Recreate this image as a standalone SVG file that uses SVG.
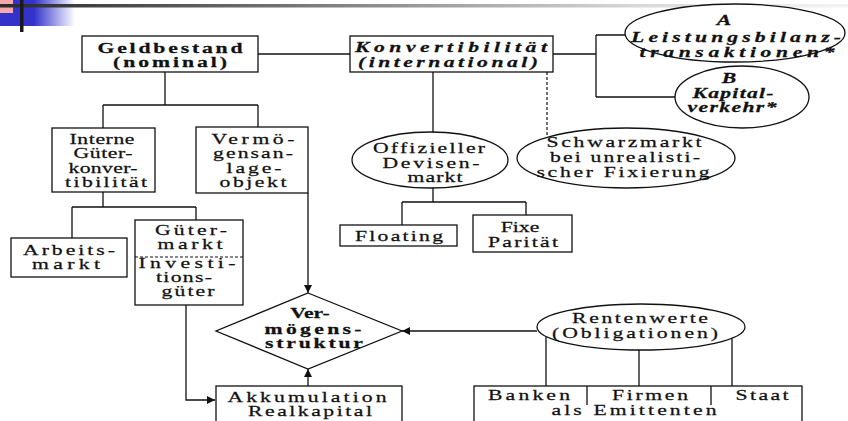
<svg xmlns="http://www.w3.org/2000/svg" width="848" height="421" viewBox="0 0 848 421">
<style>
.box{fill:#fff;stroke:#111;stroke-width:1.3}
.ln{fill:none;stroke:#111;stroke-width:1.3}
.dash{fill:none;stroke:#111;stroke-width:1.2;stroke-dasharray:3,2}
.t{font-family:"Liberation Serif","Times New Roman",serif;font-size:15.5px;text-anchor:middle;fill:#111;stroke:#111;stroke-width:0.25}
.b{font-weight:bold}
.i{font-style:italic}
</style>
<defs>
<linearGradient id="bar" x1="0" x2="1" y1="0" y2="0">
<stop offset="0" stop-color="#2a2a2a"/>
<stop offset="0.35" stop-color="#777"/>
<stop offset="0.75" stop-color="#d8d8d8"/>
<stop offset="1" stop-color="#f4f4f4"/>
</linearGradient>
<linearGradient id="blue" x1="0" x2="1" y1="0" y2="0">
<stop offset="0" stop-color="#3333cc"/>
<stop offset="0.45" stop-color="#3333cc"/>
<stop offset="1" stop-color="#3333cc" stop-opacity="0"/>
</linearGradient>
<marker id="ah" viewBox="0 0 10 10" refX="10" refY="5" markerWidth="10" markerHeight="8" markerUnits="userSpaceOnUse" orient="auto">
<path d="M0,0 L10,5 L0,10 z" fill="#111"/>
</marker>
</defs>
<rect width="848" height="421" fill="#fff"/>
<g id="decoration">
<rect x="0" y="0" width="75" height="26" fill="url(#blue)"/>
<rect x="0" y="0" width="13" height="13" fill="#f7a8a8"/>
<rect x="0" y="4" width="848" height="3.5" fill="url(#bar)"/>
<rect x="20" y="0" width="3.5" height="32" fill="#1a1a1a"/>
</g>
<g id="connectors">
<path class="ln" d="M258,54 H350"/>
<path class="ln" d="M553,54 H596 M596,35 V97 M596,35 H625 M596,97 H675"/>
<path class="ln" d="M433,72 V132"/>
<path class="dash" d="M547,72 V137"/>
<path class="ln" d="M433,188 V202 M402,202 H526 M402,202 V225 M526,202 V215"/>
<path class="ln" d="M165,72 V105 M103,105 H258 M103,105 V128 M258,105 V127"/>
<path class="ln" d="M103,192 V207 M72,207 H196 M72,207 V238 M196,207 V220"/>
<path class="ln" d="M308,193 V293" marker-end="url(#ah)"/>
<path class="ln" d="M186,305 V400 H215" marker-end="url(#ah)"/>
<path class="ln" d="M308,386 V369" marker-end="url(#ah)"/>
<path class="ln" d="M537,331 H402" marker-end="url(#ah)"/>
<path class="ln" d="M546,337 V386 M639,350 V386 M732,338 V386"/>
</g>
<g id="geldbestand">
<rect class="box" x="82" y="36" width="176" height="36"/>
<text class="t b" transform="matrix(1.4 0 0 1 170 53)" textLength="103.6" lengthAdjust="spacing">Geldbestand</text>
<text class="t b" transform="matrix(1.4 0 0 1 170 67)" textLength="81.4" lengthAdjust="spacing">(nominal)</text>
</g>
<g id="konvertibilitaet">
<rect class="box" x="350" y="36" width="203" height="36"/>
<text class="t b i" transform="matrix(1.4 0 0 1 451 52)" textLength="137.1" lengthAdjust="spacing">Konvertibilität</text>
<text class="t b i" transform="matrix(1.4 0 0 1 448 67)" textLength="128.6" lengthAdjust="spacing">(international)</text>
</g>
<g id="leistungsbilanz">
<ellipse class="box" cx="735" cy="33" rx="110" ry="29"/>
<text class="t b i" transform="matrix(1.4 0 0 1 724 25)">A</text>
<text class="t b i" transform="matrix(1.4 0 0 1 736 42)" textLength="150" lengthAdjust="spacing">Leistungsbilanz-</text>
<text class="t b i" transform="matrix(1.4 0 0 1 737 57)" textLength="139.3" lengthAdjust="spacing">transaktionen*</text>
</g>
<g id="kapitalverkehr">
<ellipse class="box" cx="742" cy="97" rx="67" ry="31"/>
<text class="t b i" transform="matrix(1.4 0 0 1 729 83)">B</text>
<text class="t b i" transform="matrix(1.4 0 0 1 733 98)" textLength="57.9" lengthAdjust="spacing">Kapital-</text>
<text class="t b i" transform="matrix(1.4 0 0 1 732 112)" textLength="63.6" lengthAdjust="spacing">verkehr*</text>
</g>
<g id="interne">
<rect class="box" x="52" y="128" width="103" height="64"/>
<text class="t" transform="matrix(1.4 0 0 1 102 144)" textLength="46.4" lengthAdjust="spacing">Interne</text>
<text class="t" transform="matrix(1.4 0 0 1 103 158)" textLength="42.1" lengthAdjust="spacing">Güter-</text>
<text class="t" transform="matrix(1.4 0 0 1 103 173)" textLength="49.3" lengthAdjust="spacing">konver-</text>
<text class="t" transform="matrix(1.4 0 0 1 106 187)" textLength="58.6" lengthAdjust="spacing">tibilität</text>
</g>
<g id="vermoegensanlage">
<rect class="box" x="196" y="127" width="112" height="66"/>
<text class="t" transform="matrix(1.4 0 0 1 253 144)" textLength="59.3" lengthAdjust="spacing">Vermö-</text>
<text class="t" transform="matrix(1.4 0 0 1 253 158)" textLength="57.1" lengthAdjust="spacing">gensan-</text>
<text class="t" transform="matrix(1.4 0 0 1 254 173)" textLength="39.3" lengthAdjust="spacing">lage-</text>
<text class="t" transform="matrix(1.4 0 0 1 253 187)" textLength="47.9" lengthAdjust="spacing">objekt</text>
</g>
<g id="arbeitsmarkt">
<rect class="box" x="11" y="238" width="116" height="39"/>
<text class="t" transform="matrix(1.4 0 0 1 69 255)" textLength="65.7" lengthAdjust="spacing">Arbeits-</text>
<text class="t" transform="matrix(1.4 0 0 1 66 269)" textLength="48.6" lengthAdjust="spacing">markt</text>
</g>
<g id="guetermarkt">
<rect class="box" x="135" y="220" width="108" height="85"/>
<path class="dash" d="M135,257 H243"/>
<text class="t" transform="matrix(1.4 0 0 1 191 235)" textLength="51.4" lengthAdjust="spacing">Güter-</text>
<text class="t" transform="matrix(1.4 0 0 1 190 249)" textLength="46.4" lengthAdjust="spacing">markt</text>
<text class="t" transform="matrix(1.4 0 0 1 187 268)" textLength="69.3" lengthAdjust="spacing">Investi-</text>
<text class="t" transform="matrix(1.4 0 0 1 184 282)" textLength="40" lengthAdjust="spacing">tions-</text>
<text class="t" transform="matrix(1.4 0 0 1 188 296)" textLength="37.9" lengthAdjust="spacing">güter</text>
</g>
<g id="devisenmarkt">
<ellipse class="box" cx="430" cy="160" rx="78" ry="28"/>
<text class="t" transform="matrix(1.4 0 0 1 429 153)" textLength="80" lengthAdjust="spacing">Offizieller</text>
<text class="t" transform="matrix(1.4 0 0 1 431 168)" textLength="69.3" lengthAdjust="spacing">Devisen-</text>
<text class="t" transform="matrix(1.4 0 0 1 435 182)" textLength="39.3" lengthAdjust="spacing">markt</text>
</g>
<g id="schwarzmarkt">
<ellipse class="box" cx="626" cy="158" rx="109" ry="30"/>
<text class="t" transform="matrix(1.4 0 0 1 624 147)" textLength="110.7" lengthAdjust="spacing">Schwarzmarkt</text>
<text class="t" transform="matrix(1.4 0 0 1 625 162)" textLength="107.1" lengthAdjust="spacing">bei unrealisti-</text>
<text class="t" transform="matrix(1.4 0 0 1 623 177)" textLength="123.6" lengthAdjust="spacing">scher Fixierung</text>
</g>
<g id="floating">
<rect class="box" x="340" y="225" width="117" height="21"/>
<text class="t" transform="matrix(1.4 0 0 1 399 241)" textLength="62.9" lengthAdjust="spacing">Floating</text>
</g>
<g id="fixe">
<rect class="box" x="473" y="215" width="99" height="37"/>
<text class="t" transform="matrix(1.4 0 0 1 520 232)">Fixe</text>
<text class="t" transform="matrix(1.4 0 0 1 523 247)" textLength="50" lengthAdjust="spacing">Parität</text>
</g>
<g id="vermoegensstruktur">
<polygon class="box" points="308,293 402,331 308,369 216,331"/>
<text class="t b" transform="matrix(1.4 0 0 1 310 318)">Ver-</text>
<text class="t b" transform="matrix(1.4 0 0 1 313 334)" textLength="69.3" lengthAdjust="spacing">mögens-</text>
<text class="t b" transform="matrix(1.4 0 0 1 314 348)" textLength="70" lengthAdjust="spacing">struktur</text>
</g>
<g id="akkumulation">
<rect class="box" x="216" y="386" width="186" height="40"/>
<text class="t" transform="matrix(1.4 0 0 1 307 402)" textLength="113.6" lengthAdjust="spacing">Akkumulation</text>
<text class="t" transform="matrix(1.4 0 0 1 310 416)" textLength="88.6" lengthAdjust="spacing">Realkapital</text>
</g>
<g id="rentenwerte">
<ellipse class="box" cx="641" cy="327" rx="104" ry="23"/>
<text class="t" transform="matrix(1.4 0 0 1 640 323)" textLength="97.1" lengthAdjust="spacing">Rentenwerte</text>
<text class="t" transform="matrix(1.4 0 0 1 635 338)" textLength="118.6" lengthAdjust="spacing">(Obligationen)</text>
</g>
<g id="emittenten">
<rect class="box" x="474" y="386" width="328" height="40"/>
<path class="ln" d="M587,386 V405 M711,386 V405"/>
<text class="t" transform="matrix(1.4 0 0 1 529 400)" textLength="58.6" lengthAdjust="spacing">Banken</text>
<text class="t" transform="matrix(1.4 0 0 1 650 400)" textLength="54.3" lengthAdjust="spacing">Firmen</text>
<text class="t" transform="matrix(1.4 0 0 1 762 400)" textLength="37.9" lengthAdjust="spacing">Staat</text>
<text class="t" transform="matrix(1.4 0 0 1 634 415)" textLength="117.9" lengthAdjust="spacing">als Emittenten</text>
</g>
</svg>
